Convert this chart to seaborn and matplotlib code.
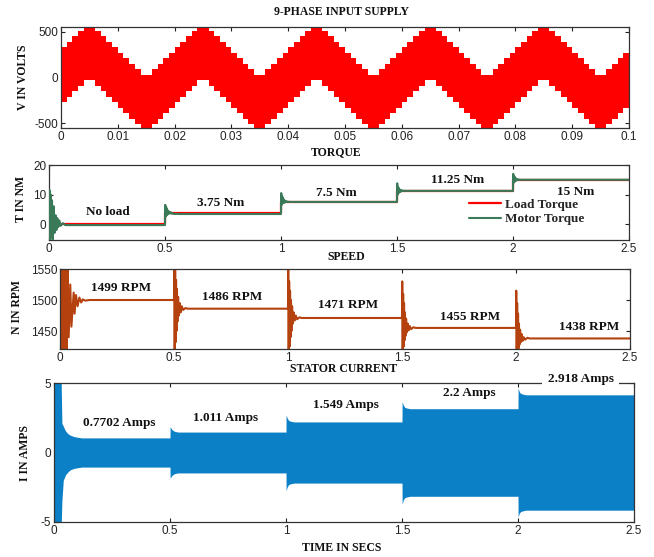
import numpy as np
import pandas as pd
import matplotlib
matplotlib.use("Agg")
import matplotlib.pyplot as plt
import seaborn as sns

# ---- data ----
# 9-phase supply: one 20 ms period of the stepped band, 1 ms per step
supply_upper = [330, 390, 450, 510, 570, 570, 510, 450, 390, 330,
                270, 210, 150, 90, 30, 30, 90, 150, 210, 270]
supply_lower = [-270, -210, -150, -90, -30, -30, -90, -150, -210, -270,
                -330, -390, -450, -510, -570, -570, -510, -450, -390, -330]
supply_periods = 5

step_times = [0.5, 1.0, 1.5, 2.0]
load_levels = [0, 3.75, 7.5, 11.25, 15]
torque_labels = ["No load", "3.75 Nm", "7.5 Nm", "11.25 Nm", "15 Nm"]
speed_labels = ["1499 RPM", "1486 RPM", "1471 RPM", "1455 RPM", "1438 RPM"]
current_labels = ["0.7702 Amps", "1.011 Amps", "1.549 Amps", "2.2 Amps", "2.918 Amps"]

# start-up transients
start_t = [0, 0.002, 0.004, 0.007, 0.010, 0.013, 0.016, 0.020, 0.024,
           0.028, 0.032, 0.036, 0.040, 0.045, 0.050, 0.060, 0.070]
start_torque = [0, 11.5, -5.5, 10, -4.5, 8, -5.5, 6, -3, 3, -2, 2, -1, 1.2,
                -0.6, 0.3, -0.35]
start_speed_t = [0, 0.002, 0.004, 0.008, 0.012, 0.016, 0.020, 0.025, 0.029,
                 0.033, 0.038, 0.045, 0.050, 0.060, 0.064, 0.070, 0.077,
                 0.085, 0.093, 0.100, 0.110, 0.130]
start_speed = [1300, 1505, 1380, 1600, 1380, 1600, 1380, 1600, 1400, 1560,
               1440, 1525, 1457, 1512, 1478, 1508, 1490, 1504, 1496, 1501,
               1499, 1500]

# load-step transients (offsets after each step time)
step_dt = [0, 0.001, 0.003, 0.005, 0.007, 0.009, 0.011, 0.013, 0.015,
           0.018, 0.021, 0.025, 0.029, 0.034, 0.040, 0.050, 0.060]
step_torque = [
    [-0.35, 6.5, 2.5, 5.8, 3.0, 5.0, 3.3, 4.5, 3.5, 4.2, 3.6, 4.0, 3.5, 3.6, 3.4, 3.45, 3.4],
    [3.4, 10.5, 6.5, 9.5, 7.0, 8.8, 7.2, 8.2, 7.3, 7.9, 7.4, 7.7, 7.45, 7.55, 7.5, 7.5, 7.5],
    [7.5, 13.8, 10.0, 12.5, 10.5, 12.0, 10.8, 11.6, 11.0, 11.5, 11.1, 11.35, 11.2, 11.28, 11.24, 11.25, 11.25],
    [11.25, 17.0, 14.0, 16.2, 14.3, 15.8, 14.6, 15.4, 14.8, 15.2, 14.9, 15.1, 14.95, 15.03, 14.98, 15.0, 15.0],
]
step_speed = [
    [1500, 1560, 1418, 1548, 1432, 1532, 1450, 1518, 1465, 1505, 1475, 1495, 1480, 1490, 1484, 1487, 1486],
    [1486, 1550, 1418, 1530, 1425, 1515, 1440, 1500, 1450, 1490, 1462, 1480, 1467, 1475, 1469, 1472, 1471],
    [1471, 1530, 1418, 1510, 1425, 1495, 1435, 1480, 1442, 1470, 1448, 1462, 1451, 1458, 1453, 1456, 1455],
    [1455, 1515, 1418, 1495, 1419, 1478, 1422, 1462, 1428, 1452, 1432, 1445, 1434, 1440, 1436, 1439, 1438],
]

# stator current envelope
cur_start_t = [0, 0.030, 0.034, 0.040, 0.045, 0.050, 0.060, 0.070, 0.085, 0.100, 0.120]
cur_start_hi = [6, 6, 2.1, 1.9, 1.7, 1.55, 1.35, 1.25, 1.15, 1.1, 1.05]
cur_start_lo = [-6, -6, -3.5, -2.0, -1.8, -1.6, -1.4, -1.25, -1.15, -1.1, -1.05]
cur_dt = [0, 0.0005, 0.006, 0.012, 0.020, 0.035]
cur_step_hi = [
    [1.05, 1.87, 1.7, 1.6, 1.52, 1.47],
    [1.47, 2.7, 2.45, 2.3, 2.25, 2.2],
    [2.2, 3.65, 3.4, 3.25, 3.2, 3.15],
    [3.15, 4.65, 4.35, 4.25, 4.2, 4.15],
]
cur_step_lo = [
    [-1.05, -1.85, -1.7, -1.6, -1.52, -1.47],
    [-1.47, -2.75, -2.45, -2.3, -2.25, -2.2],
    [-2.2, -3.7, -3.4, -3.25, -3.2, -3.15],
    [-3.15, -4.65, -4.35, -4.25, -4.2, -4.15],
]

# label anchor points (data coords)
torque_lbl_x = [0.255, 0.74, 1.24, 1.76, 2.27]
torque_lbl_y = [4.1, 7.1, 10.5, 14.9, 10.8]
speed_lbl_x = [0.27, 0.755, 1.265, 1.80, 2.32]
speed_lbl_y = [1519, 1505, 1492, 1473, 1456]
current_lbl_x = [0.28, 0.74, 1.26, 1.79, 2.27]
current_lbl_y = [2.1, 2.5, 3.4, 4.3, 5.3]

T_END = 2.5

# ---- build series ----
sup_t = np.linspace(0, 0.1, len(supply_upper) * supply_periods + 1)
sup_hi = np.tile(supply_upper, supply_periods)
sup_lo = np.tile(supply_lower, supply_periods)
sup_hi = np.append(sup_hi, sup_hi[0])
sup_lo = np.append(sup_lo, sup_lo[0])

edges = [0] + step_times + [T_END]
load_t, load_v = [], []
for i, lv in enumerate(load_levels):
    load_t += [edges[i], edges[i + 1]]
    load_v += [lv, lv]
load_df = pd.DataFrame({"t": load_t, "v": load_v})

mot_t, mot_v = list(start_t), list(start_torque)
spd_t, spd_v = list(start_speed_t), list(start_speed)
for i, st in enumerate(step_times):
    mot_t += [st + d for d in step_dt]
    mot_v += step_torque[i]
    spd_t += [st + d for d in step_dt]
    spd_v += step_speed[i]
mot_t.append(T_END); mot_v.append(step_torque[-1][-1])
spd_t.append(T_END); spd_v.append(step_speed[-1][-1])
mot_df = pd.DataFrame({"t": mot_t, "v": mot_v})
spd_df = pd.DataFrame({"t": spd_t, "v": spd_v})

cur_t, cur_hi, cur_lo = list(cur_start_t), list(cur_start_hi), list(cur_start_lo)
for i, st in enumerate(step_times):
    cur_t += [st + d for d in cur_dt]
    cur_hi += cur_step_hi[i]
    cur_lo += cur_step_lo[i]
cur_t.append(T_END); cur_hi.append(cur_step_hi[-1][-1]); cur_lo.append(cur_step_lo[-1][-1])

# ---- style ----
sns.set_style("ticks")
serif = ["Liberation Serif", "DejaVu Serif"]
plt.rcParams["font.family"] = ["Liberation Sans", "DejaVu Sans"]
plt.rcParams.update({
    "axes.unicode_minus": False,
    "xtick.direction": "in", "ytick.direction": "in",
    "xtick.top": True, "ytick.right": True,
    "xtick.labelsize": 8.5, "ytick.labelsize": 8.5,
    "xtick.color": "#222222", "ytick.color": "#222222",
    "axes.edgecolor": "#333333", "axes.linewidth": 0.9,
    "xtick.major.size": 3, "ytick.major.size": 3,
})
title_kw = dict(family=serif, fontweight="bold", fontsize=8.5, color="#111111")
lbl_kw = dict(family=serif, fontweight="bold", fontsize=9.5, color="#111111")

W, H = 654, 557
fig = plt.figure(figsize=(W / 100, H / 100), dpi=100)


def box(l, t, r, b):
    return fig.add_axes([l / W, 1 - b / H, (r - l) / W, (b - t) / H])


def ftext(x, y, s, **kw):
    fig.text(x / W, 1 - y / H, s, ha="center", va="center", **kw)


# panel 1: supply
ax1 = box(61, 27, 629, 128)
ax1.fill_between(sup_t, sup_lo, sup_hi, step="post", color="#ff0000", lw=0)
ax1.set_xlim(0, 0.1)
ax1.set_ylim(-553, 550)
ax1.set_xticks(np.linspace(0, 0.1, 11))
ax1.set_xticklabels(["0", "0.01", "0.02", "0.03", "0.04", "0.05", "0.06",
                     "0.07", "0.08", "0.09", "0.1"])
ax1.set_yticks([-500, 0, 500])

# panel 2: torque
ax2 = box(49, 165, 629, 240)
sns.lineplot(data=load_df, x="t", y="v", ax=ax2, color="#ff0000", lw=1.6,
             estimator=None, sort=False, label="Load Torque", zorder=2)
sns.lineplot(data=mot_df, x="t", y="v", ax=ax2, color="#3a7a58", lw=1.5,
             estimator=None, sort=False, label="Motor Torque", zorder=3)
ax2.set_xlim(0, T_END)
ax2.set_ylim(-5.4, 20)
ax2.set_yticks([0, 10, 20])
ax2.set_xticks([0, 0.5, 1, 1.5, 2, 2.5])
ax2.set_xticklabels(["0", "0.5", "1", "1.5", "2", "2.5"])
for x, y, s in zip(torque_lbl_x, torque_lbl_y, torque_labels):
    ax2.text(x, y, s, ha="center", va="center", **lbl_kw)
ax2.legend(loc="upper left", bbox_to_anchor=(0.715, 0.62), frameon=False,
           handlelength=2.4, handletextpad=0.3, labelspacing=0.15,
           borderaxespad=0, prop=dict(family=serif, weight="bold", size=9.5))

# panel 3: speed
ax3 = box(60, 269, 630, 349)
sns.lineplot(data=spd_df, x="t", y="v", ax=ax3, color="#b5410e", lw=1.5,
             estimator=None, sort=False)
ax3.set_xlim(0, T_END)
ax3.set_ylim(1421, 1550)
ax3.set_yticks([1450, 1500, 1550])
ax3.set_xticks([0, 0.5, 1, 1.5, 2, 2.5])
ax3.set_xticklabels(["0", "0.5", "1", "1.5", "2", "2.5"])
for x, y, s in zip(speed_lbl_x, speed_lbl_y, speed_labels):
    ax3.text(x, y, s, ha="center", va="center", **lbl_kw)

# panel 4: stator current
ax4 = box(54, 383, 634, 522)
ax4.fill_between(cur_t, cur_lo, cur_hi, color="#0b80c6", lw=0)
ax4.set_xlim(0, T_END)
ax4.set_ylim(-5, 5)
ax4.set_yticks([-5, 0, 5])
ax4.set_xticks([0, 0.5, 1, 1.5, 2, 2.5])
ax4.set_xticklabels(["0", "0.5", "1", "1.5", "2", "2.5"])
for i, (x, y, s) in enumerate(zip(current_lbl_x, current_lbl_y, current_labels)):
    kw = dict(lbl_kw)
    if i == len(current_labels) - 1:
        kw["bbox"] = dict(facecolor="white", edgecolor="none", pad=4)
    ax4.text(x, y, s, ha="center", va="center", clip_on=False, zorder=5, **kw)

for ax in (ax1, ax2, ax3, ax4):
    ax.set_xlabel("")
    ax.set_ylabel("")
    ax.tick_params(pad=2)

# titles and axis names
ftext(342, 12, "9-PHASE INPUT SUPPLY", **title_kw)
ftext(336, 152, "TORQUE", **title_kw)
ftext(346, 257, "SPEED", **title_kw)
ftext(344, 369, "STATOR CURRENT", **title_kw)
ftext(342, 548, "TIME IN SECS", **title_kw)
ftext(23, 77, "V IN VOLTS", rotation=90, **title_kw)
ftext(21, 199, "T IN NM", rotation=90, **title_kw)
ftext(17, 307, "N IN RPM", rotation=90, **title_kw)
ftext(25, 453, "I IN AMPS", rotation=90, **title_kw)

fig.savefig("out.png", dpi=100)
